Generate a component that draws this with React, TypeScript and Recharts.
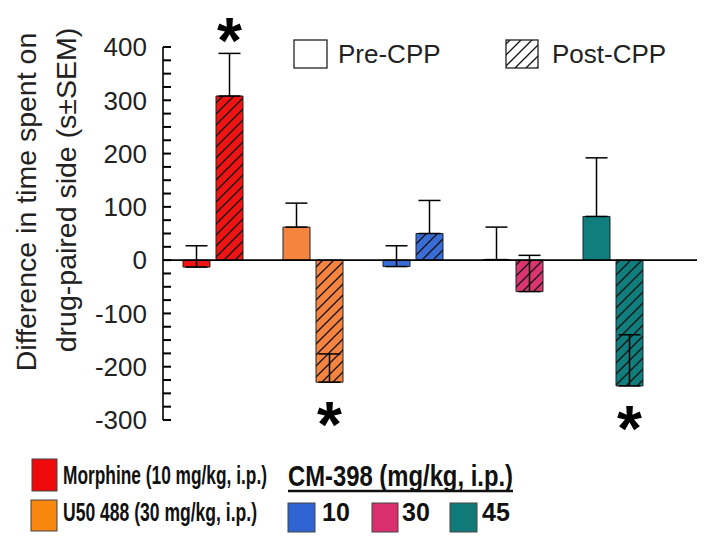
import React from 'react';
import { BarChart, Bar, XAxis, YAxis, Cell, ErrorBar, ReferenceLine, LabelList } from 'recharts';

// ---- data ----
const categories = ['Morphine', 'U50 488', 'CM-398 10', 'CM-398 30', 'CM-398 45'];
const preValues = [-13, 62, -12, 1, 82];
const preSem = [40, 45, 39, 61, 110];
const postValues = [308, -229, 50, -59, -236];
const postSem = [80, 53, 62, 68, 96];
const significant = [true, true, false, false, true];
const barColors = ['#EE1414', '#F4843F', '#3A6CD6', '#DA3570', '#0F7E7D'];
const legendColors = ['#EE0A0A', '#F7870F', '#2F63D2', '#DA2F6E', '#0F7A77'];
const majorTicks = [-300, -200, -100, 0, 100, 200, 300, 400];
const minorStep = 25;
const allTicks: number[] = [];
for (let t = majorTicks[0]; t <= majorTicks[majorTicks.length - 1]; t += minorStep) allTicks.push(t);

const data = categories.map((name, i) => ({
  name,
  pre: preValues[i],
  preErr: [0, preSem[i]],
  post: postValues[i],
  postErr: [0, postSem[i]],
}));

const FONT = '"Liberation Sans", Arial, sans-serif';
const NARROW = '"Liberation Sans Narrow", "Arial Narrow", "Liberation Sans", Arial, sans-serif';

const renderStar = (props: any) => {
  const vb = props.viewBox && props.viewBox.width != null ? props.viewBox : props;
  const x = Number(vb.x);
  const y = Number(vb.y);
  const width = Number(vb.width);
  const height = Number(vb.height);
  const idx = props.index != null ? props.index : postValues.indexOf(props.value);
  if (!significant[idx]) return null;
  const value = postValues[idx];
  const top = Math.min(y, y + height);
  const bottom = Math.max(y, y + height);
  const ppu = Math.abs(height) / Math.abs(value);
  const cx = x + width / 2;
  const cy = value > 0 ? top - postSem[idx] * ppu - 23 : bottom + 32;
  return (
    <text key={`star-${idx}`} x={cx} y={cy + 33} textAnchor="middle" fontSize={64} fontWeight="bold" fontFamily={FONT} fill="#000">
      *
    </text>
  );
};

export default function App() {
  return (
    <div style={{ position: 'absolute', left: 0, top: 0, width: 713, height: 553, background: '#fff' }}>
      <div style={{ position: 'absolute', left: 0, top: 0 }}>
        <BarChart
          width={713}
          height={553}
          data={data}
          margin={{ top: 47, right: 16, bottom: 133, left: 0 }}
          barSize={27}
          barGap={6}
        >
          <XAxis dataKey="name" hide padding={{ left: 0, right: 34 }} />
          <YAxis
            type="number"
            domain={[-300, 400]}
            ticks={allTicks}
            interval={0}
            width={163}
            tickSize={-8}
            tickMargin={24}
            tickFormatter={(v: number) => (v % 100 === 0 ? String(v) : '')}
            axisLine={{ stroke: '#000', strokeWidth: 1.6 }}
            tickLine={{ stroke: '#000', strokeWidth: 2 }}
            tick={{ fontSize: 26, fontFamily: FONT, fill: '#222' }}
          />
          <ReferenceLine y={0} stroke="#000" strokeWidth={1.6} />
          <Bar dataKey="pre" isAnimationActive={false} stroke="#222" strokeWidth={1}>
            {data.map((d, i) => (
              <Cell key={`pre-${i}`} fill={barColors[i]} />
            ))}
            <ErrorBar dataKey="preErr" direction="y" width={11} stroke="#000" strokeWidth={1.5} />
          </Bar>
          <Bar dataKey="post" isAnimationActive={false} stroke="#222" strokeWidth={1}>
            {data.map((d, i) => (
              <Cell key={`post-${i}`} fill={`url(#hatch-${i})`} />
            ))}
            <ErrorBar dataKey="postErr" direction="y" width={11} stroke="#000" strokeWidth={1.5} />
            <LabelList dataKey="post" content={renderStar} />
          </Bar>
        </BarChart>
      </div>
      <svg
        width={713}
        height={553}
        style={{ position: 'absolute', left: 0, top: 0, pointerEvents: 'none' }}
      >
        <defs>
          {barColors.map((c, i) => (
            <pattern key={i} id={`hatch-${i}`} patternUnits="userSpaceOnUse" width={11} height={11}>
              <rect width={11} height={11} fill={c} />
              <path d="M-1,1 L1,-1 M0,11 L11,0 M10,12 L12,10" stroke="#111" strokeWidth={1.3} />
            </pattern>
          ))}
          <pattern id="hatch-legend" patternUnits="userSpaceOnUse" width={11} height={11}>
            <rect width={11} height={11} fill="#fff" />
            <path d="M-1,1 L1,-1 M0,11 L11,0 M10,12 L12,10" stroke="#111" strokeWidth={1.3} />
          </pattern>
        </defs>

        {/* y axis title */}
        <text
          x={36}
          y={202}
          transform="rotate(-90 36 202)"
          textAnchor="middle"
          fontSize={28.5}
          fontFamily={FONT}
          fill="#222"
        >
          Difference in time spent on
        </text>
        <text
          x={76}
          y={190}
          transform="rotate(-90 76 190)"
          textAnchor="middle"
          fontSize={28.5}
          fontFamily={FONT}
          fill="#222"
        >
          drug-paired side (s±SEM)
        </text>

        {/* top legend */}
        <rect x={294} y={40} width={33} height={28} fill="#fff" stroke="#222" strokeWidth={1.3} />
        <text x={338} y={63} fontSize={26} fontFamily={FONT} fill="#222">Pre-CPP</text>
        <rect x={506} y={40} width={32} height={28} fill="url(#hatch-legend)" stroke="#222" strokeWidth={1.3} />
        <text x={552} y={63} fontSize={26} fontFamily={FONT} fill="#222">Post-CPP</text>

        {/* bottom legend */}
        <rect x={32} y={459} width={25} height={32} fill={legendColors[0]} stroke="#444" strokeWidth={1} />
        <text x={63} y={484} fontSize={25} fontWeight="bold" fontFamily={NARROW} fill="#111" textLength={204} lengthAdjust="spacingAndGlyphs">
          Morphine (10 mg/kg, i.p.)
        </text>
        <rect x={31} y={500} width={26} height={31} fill={legendColors[1]} stroke="#444" strokeWidth={1} />
        <text x={63} y={521} fontSize={25} fontWeight="bold" fontFamily={NARROW} fill="#111" textLength={194} lengthAdjust="spacingAndGlyphs">
          U50 488 (30 mg/kg, i.p.)
        </text>

        <text x={288} y={486} fontSize={30} fontWeight="bold" fontFamily={NARROW} fill="#111" textLength={225} lengthAdjust="spacingAndGlyphs">
          CM-398 (mg/kg, i.p.)
        </text>
        <line x1={288} x2={513} y1={491} y2={491} stroke="#111" strokeWidth={2.5} />

        <rect x={288} y={503} width={27} height={29} fill={legendColors[2]} stroke="#444" strokeWidth={1} />
        <text x={322} y={521} fontSize={25} fontWeight="bold" fontFamily={NARROW} fill="#111">10</text>
        <rect x={372} y={503} width={26} height={29} fill={legendColors[3]} stroke="#444" strokeWidth={1} />
        <text x={402} y={521} fontSize={25} fontWeight="bold" fontFamily={NARROW} fill="#111">30</text>
        <rect x={450} y={503} width={27} height={29} fill={legendColors[4]} stroke="#444" strokeWidth={1} />
        <text x={482} y={521} fontSize={25} fontWeight="bold" fontFamily={NARROW} fill="#111">45</text>
      </svg>
    </div>
  );
}
